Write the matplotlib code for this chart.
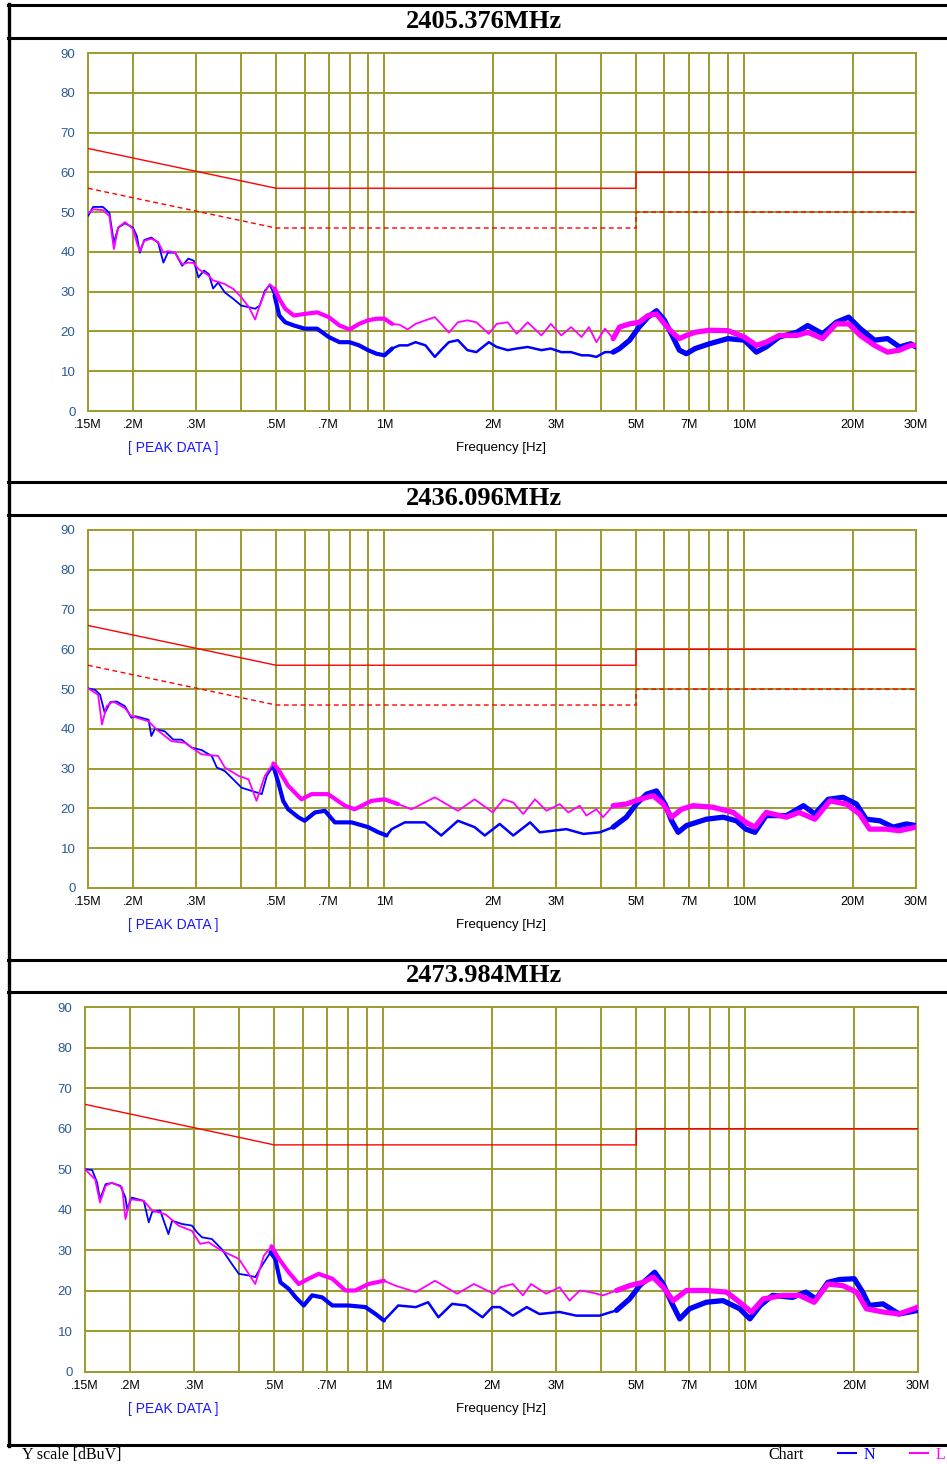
import matplotlib
matplotlib.use("Agg")
import matplotlib.pyplot as plt
from matplotlib.lines import Line2D
import numpy as np

# ---------------- data ----------------
TITLES = ["2405.376MHz", "2436.096MHz", "2473.984MHz"]

# limit lines (MHz, dBuV)
LIM_F = [0.15, 0.5, 5.0, 5.0, 30.0]
QP_LIM = [66, 56, 56, 60, 60]
AV_LIM = [56, 46, 46, 50, 50]

# Panel 1 (common frequency grid for N and L)
F1 = [0.150, 0.155, 0.165, 0.172, 0.177, 0.182, 0.190, 0.200, 0.205, 0.209, 0.215,
      0.225, 0.235, 0.243, 0.250, 0.262, 0.274, 0.285, 0.295, 0.304, 0.315, 0.325,
      0.334, 0.345, 0.360, 0.380, 0.400, 0.420, 0.437, 0.450, 0.465, 0.480, 0.495,
      0.510, 0.530, 0.560, 0.600, 0.650, 0.700, 0.750, 0.800, 0.850, 0.900, 0.950,
      1.00, 1.05, 1.10, 1.16, 1.22, 1.30, 1.38, 1.45, 1.51, 1.60, 1.70, 1.80, 1.95,
      2.05, 2.20, 2.33, 2.50, 2.73, 2.90, 3.10, 3.30, 3.53, 3.70, 3.88, 4.10, 4.32,
      4.50, 4.80, 5.10, 5.40, 5.70, 6.00, 6.30, 6.60, 6.90, 7.30, 8.00, 9.00, 10.0,
      10.8, 11.5, 12.5, 14.0, 15.0, 16.5, 18.0, 19.5, 21.0, 23.0, 25.0, 27.0, 29.0, 30.0]
N1 = [49.0, 51.3, 51.3, 49.8, 42.3, 46.1, 47.2, 46.1, 44.0, 39.8, 43.0,
      43.6, 42.3, 37.3, 39.8, 39.8, 36.5, 38.3, 37.8, 33.6, 35.3, 34.4,
      30.8, 32.3, 29.8, 28.2, 26.5, 26.1, 25.7, 26.5, 30.2, 31.7, 29.0,
      24.0, 22.3, 21.5, 20.7, 20.7, 18.6, 17.3, 17.3, 16.5, 15.3, 14.4,
      14.0, 15.7, 16.5, 16.5, 17.3, 16.5, 13.6, 15.7, 17.3, 17.8, 15.3, 14.8, 17.3,
      16.1, 15.3, 15.7, 16.1, 15.3, 15.7, 14.8, 14.8, 14.0, 14.0, 13.6, 14.8, 14.8,
      15.7, 17.8, 21.1, 23.6, 25.2, 22.8, 19.0, 15.3, 14.4, 15.7, 16.9, 18.2, 17.8,
      14.8, 16.1, 18.6, 19.8, 21.5, 19.4, 22.3, 23.6, 20.7, 17.8, 18.2, 16.1, 16.9, 16.1]
L1 = [49.7, 50.7, 50.5, 49.0, 40.7, 46.1, 47.5, 45.8, 42.3, 40.2, 42.8,
      43.3, 42.5, 39.8, 40.2, 39.8, 36.9, 37.3, 37.2, 35.7, 34.8, 34.0,
      32.8, 32.5, 31.9, 30.7, 28.6, 26.1, 23.0, 26.5, 29.8, 31.9, 30.8,
      28.2, 25.7, 24.0, 24.4, 24.8, 23.6, 21.5, 20.5, 21.9, 22.8, 23.2,
      23.2, 21.9, 21.7, 20.5, 21.9, 22.8, 23.6, 21.5, 19.7, 22.3, 22.8, 22.3, 19.4,
      21.9, 22.3, 19.4, 22.3, 19.0, 21.9, 19.0, 21.1, 18.6, 21.1, 17.3, 20.7, 18.2,
      21.1, 21.9, 22.3, 24.0, 24.4, 21.9, 19.8, 18.2, 19.0, 19.8, 20.3, 20.2, 18.6,
      16.5, 17.3, 19.0, 19.0, 19.8, 18.2, 21.9, 21.9, 19.0, 16.5, 14.8, 15.3, 16.5, 16.5]

# Panel 2
F2N = [0.150, 0.157, 0.162, 0.167, 0.173, 0.180, 0.190, 0.198, 0.203, 0.221, 0.225,
       0.230, 0.245, 0.259, 0.273, 0.291, 0.310, 0.331, 0.342, 0.360, 0.380, 0.401,
       0.428, 0.456, 0.471, 0.491, 0.507, 0.523, 0.540, 0.576, 0.600, 0.641, 0.683,
       0.728, 0.810, 0.901, 0.962, 1.014, 1.047, 1.139, 1.295, 1.438, 1.60, 1.78, 1.90,
       2.09, 2.28, 2.54, 2.70, 2.94, 3.20, 3.57, 3.97, 4.32, 4.70, 5.01, 5.35, 5.70,
       6.02, 6.28, 6.55, 6.91, 7.85, 8.73, 9.50, 10.1, 10.7, 11.5, 13.1, 14.6, 15.7,
       17.1, 18.8, 20.5, 21.8, 23.8, 25.9, 28.2, 30.0]
N2 = [50.2, 49.8, 48.6, 44.0, 46.7, 46.9, 45.7, 42.8, 43.2, 42.3, 38.2,
      40.0, 39.4, 37.3, 37.3, 35.3, 34.7, 33.2, 30.3, 29.4, 27.3, 25.2,
      24.4, 23.6, 28.2, 30.7, 26.5, 21.9, 19.8, 17.8, 16.9, 19.0, 19.4,
      16.5, 16.5, 15.3, 14.0, 13.2, 14.8, 16.5, 16.5, 13.2, 16.9, 15.3, 13.2,
      16.1, 13.2, 16.5, 14.0, 14.4, 14.8, 13.6, 14.0, 15.3, 17.8, 21.1, 23.6, 24.4,
      21.1, 16.9, 14.0, 15.7, 17.3, 17.8, 16.9, 14.8, 14.0, 18.2, 18.2, 20.7, 18.6,
      22.3, 22.8, 21.1, 17.3, 16.9, 15.3, 16.1, 15.7]
F2L = [0.150, 0.160, 0.164, 0.169, 0.176, 0.190, 0.198, 0.221, 0.233, 0.256, 0.279,
       0.310, 0.345, 0.360, 0.393, 0.419, 0.441, 0.465, 0.491, 0.507, 0.540, 0.588,
       0.627, 0.697, 0.776, 0.826, 0.920, 1.00, 1.09, 1.19, 1.38, 1.60, 1.78, 2.00,
       2.14, 2.28, 2.43, 2.62, 2.82, 3.07, 3.24, 3.49, 3.64, 3.88, 4.05, 4.32, 4.70,
       5.12, 5.58, 5.95, 6.28, 6.69, 7.20, 8.18, 9.31, 10.1, 10.7, 11.5, 13.1, 14.2,
       15.7, 17.3, 19.2, 20.9, 22.3, 24.8, 27.0, 30.0]
L2 = [50.2, 48.6, 41.1, 45.7, 46.9, 45.2, 43.2, 41.9, 39.8, 36.9, 36.5,
      33.6, 33.2, 30.3, 28.2, 27.3, 21.9, 28.2, 31.3, 29.8, 25.7, 22.3,
      23.6, 23.6, 20.7, 19.8, 21.9, 22.3, 21.1, 19.8, 22.8, 19.4, 22.3, 19.0,
      22.3, 21.5, 18.6, 22.3, 19.4, 21.1, 19.0, 20.7, 18.2, 19.8, 17.8, 20.7, 21.1,
      22.3, 23.2, 21.1, 17.8, 19.8, 20.7, 20.3, 19.0, 16.5, 15.3, 19.0, 17.8, 19.0,
      17.3, 21.9, 21.1, 18.6, 14.8, 14.8, 14.4, 15.3]

# Panel 3
F3N = [0.150, 0.157, 0.162, 0.165, 0.171, 0.178, 0.188, 0.194, 0.196, 0.202, 0.218,
       0.225, 0.230, 0.242, 0.255, 0.261, 0.278, 0.296, 0.306, 0.316, 0.336, 0.358,
       0.382, 0.399, 0.425, 0.443, 0.462, 0.488, 0.503, 0.520, 0.548, 0.573, 0.603,
       0.636, 0.678, 0.723, 0.802, 0.893, 0.952, 1.004, 1.035, 1.10, 1.23, 1.33, 1.42,
       1.55, 1.69, 1.88, 2.00, 2.10, 2.28, 2.49, 2.70, 3.07, 3.41, 3.96, 4.41, 4.79,
       5.11, 5.62, 5.93, 6.25, 6.59, 7.02, 7.80, 8.68, 9.65, 10.3, 11.0, 11.9, 13.5,
       14.7, 15.7, 16.9, 18.2, 20.0, 21.1, 22.0, 24.0, 26.6, 30.0]
N3 = [50.0, 49.8, 46.7, 42.6, 46.3, 46.6, 45.9, 43.0, 40.2, 43.0, 42.2,
      36.9, 39.5, 39.8, 34.0, 37.3, 36.5, 36.1, 34.4, 33.2, 32.8, 30.3,
      26.6, 24.2, 23.8, 23.4, 26.2, 29.5, 27.9, 22.1, 20.5, 18.4, 16.4,
      18.9, 18.4, 16.4, 16.4, 16.0, 14.3, 12.7, 13.9, 16.4, 16.0, 17.2, 13.5,
      16.8, 16.4, 13.5, 16.0, 16.0, 13.9, 16.0, 14.3, 14.8, 13.9, 13.9, 15.2, 18.0,
      21.3, 24.6, 21.7, 17.2, 13.1, 15.6, 17.2, 17.6, 15.6, 13.1, 16.4, 18.9, 18.4,
      19.7, 18.0, 22.1, 22.8, 23.0, 19.7, 16.4, 16.8, 14.3, 15.2]
F3L = [0.150, 0.160, 0.165, 0.171, 0.178, 0.190, 0.194, 0.200, 0.218, 0.230, 0.250,
       0.272, 0.296, 0.312, 0.329, 0.358, 0.399, 0.425, 0.443, 0.468, 0.491, 0.515,
       0.548, 0.584, 0.622, 0.663, 0.723, 0.786, 0.837, 0.911, 1.004, 1.08, 1.23,
       1.39, 1.60, 1.78, 2.02, 2.11, 2.28, 2.43, 2.56, 2.82, 3.07, 3.27, 3.49, 3.72,
       4.05, 4.41, 4.79, 5.22, 5.56, 5.93, 6.32, 6.88, 7.80, 8.88, 9.65, 10.4, 11.2,
       12.7, 14.1, 15.5, 16.9, 18.6, 20.3, 21.6, 24.0, 26.6, 30.0]
L3 = [50.0, 47.5, 41.8, 45.9, 46.7, 45.5, 37.7, 42.6, 42.2, 39.8, 38.9,
      36.1, 34.8, 31.6, 32.0, 29.9, 27.9, 24.2, 21.7, 28.7, 31.0, 27.9,
      24.6, 21.7, 23.0, 24.2, 23.0, 20.1, 20.1, 21.7, 22.5, 21.3, 19.7,
      22.5, 19.3, 21.7, 19.3, 20.9, 21.7, 18.9, 21.7, 19.3, 20.9, 17.6, 20.1, 19.7,
      18.9, 20.1, 21.3, 22.1, 23.4, 20.9, 17.6, 20.1, 20.1, 19.7, 17.2, 14.8, 18.0,
      18.9, 18.9, 17.2, 21.7, 21.3, 19.7, 15.6, 14.8, 14.3, 16.0]

PANELS = [
    (F1, N1, F1, L1, True),
    (F2N, N2, F2L, L2, True),
    (F3N, N3, F3L, L3, False),
]

XTICKS = [0.15, 0.2, 0.3, 0.5, 0.7, 1, 2, 3, 5, 7, 10, 20, 30]
XTICKLABELS = [".15M", ".2M", ".3M", ".5M", ".7M", "1M", "2M", "3M", "5M", "7M", "10M", "20M", "30M"]
XGRID = [0.2, 0.3, 0.4, 0.5, 0.6, 0.7, 0.8, 0.9, 1, 2, 3, 4, 5, 6, 7, 8, 9, 10, 20]
YTICKS = [0, 10, 20, 30, 40, 50, 60, 70, 80, 90]

# ---------------- style ----------------
W, H = 947, 1464
GRID_C = "#9d9a2c"
BLUE = "#0000ff"
MAG = "#ff00ff"
RED = "#ff0000"
YLAB_C = "#2a5a9c"
SANS = ["Liberation Sans", "DejaVu Sans"]
SERIF = ["Liberation Serif", "DejaVu Serif"]

# axes boxes in pixels: left, top, right, bottom
BOXES = [(88, 53, 916, 411), (88, 530, 916, 888), (85, 1007, 918, 1372)]
TITLE_Y = [21.5, 498.5, 976]

fig = plt.figure(figsize=(W / 100, H / 100), dpi=100)


def fx(x):
    return x / W


def fy(y):
    return 1 - y / H


# frame lines (table)
for y in [5, 38, 482, 515, 960, 992, 1445]:
    fig.add_artist(Line2D([fx(8), fx(947)], [fy(y), fy(y)], color="black", lw=2.2,
                          transform=fig.transFigure))
fig.add_artist(Line2D([fx(8.5), fx(8.5)], [fy(4), fy(1446)], color="black", lw=2.4,
                      transform=fig.transFigure))

# line-width segments (noisier measurement bands drawn thicker)
SEGMENTS = {
    "N": [(0.15, 0.5, 1.3), (0.5, 1.0, 3.0), (1.0, 4.5, 1.8), (4.5, 30, 3.8)],
    "L": [(0.15, 0.5, 1.3), (0.5, 1.0, 3.0), (1.0, 4.5, 1.3), (4.5, 30, 3.8)],
}


def draw_series(ax, f, v, color, key):
    f = np.asarray(f, float)
    v = np.asarray(v, float)
    for lo, hi, lw in SEGMENTS[key]:
        idx = np.where((f >= lo) & (f <= hi))[0]
        if len(idx) == 0:
            continue
        i0 = max(idx[0] - 1, 0)
        i1 = min(idx[-1] + 1, len(f) - 1)
        ax.plot(f[i0:i1 + 1], v[i0:i1 + 1], color=color, lw=lw, zorder=4,
                solid_joinstyle="round", solid_capstyle="round")


for p, (box, (fn, nv, fl, lv, show_av)) in enumerate(zip(BOXES, PANELS)):
    l, t, r, b = box
    ax = fig.add_axes([fx(l), fy(b), (r - l) / W, (b - t) / H])
    ax.set_xscale("log")
    ax.set_xlim(0.15, 30)
    ax.set_ylim(0, 90)
    for s in ax.spines.values():
        s.set_color(GRID_C)
        s.set_linewidth(1.4)
    for g in XGRID:
        ax.axvline(g, color=GRID_C, lw=1.4, zorder=1)
    for g in YTICKS[1:-1]:
        ax.axhline(g, color=GRID_C, lw=1.4, zorder=1)
    ax.set_xticks(XTICKS)
    ax.set_xticklabels(XTICKLABELS, fontfamily=SANS, fontsize=9, color="black")
    ax.xaxis.set_minor_locator(matplotlib.ticker.NullLocator())
    ax.set_yticks(YTICKS)
    ax.set_yticklabels([str(y) for y in YTICKS], fontfamily=SANS, fontsize=9.5, color=YLAB_C)
    ax.tick_params(axis="both", length=0)
    ax.tick_params(axis="x", pad=6)
    ax.tick_params(axis="y", pad=9)

    # limits
    ax.plot(LIM_F, QP_LIM, color=RED, lw=1.0, zorder=3)
    if show_av:
        ax.plot(LIM_F, AV_LIM, color=RED, lw=1.0, ls=(0, (3.5, 2.5)), zorder=3)

    draw_series(ax, fn, nv, BLUE, "N")
    draw_series(ax, fl, lv, MAG, "L")

    # texts
    fig.text(fx(484), fy(TITLE_Y[p]), TITLES[p], ha="center", va="center",
             fontfamily=SERIF, fontweight="bold", fontsize=19)
    fig.text(fx(173), fy(b + 37), "[ PEAK DATA ]", ha="center", va="center",
             fontfamily=SANS, fontsize=10, color="#1a1aff")
    fig.text(fx(501), fy(b + 37), "Frequency [Hz]", ha="center", va="center",
             fontfamily=SANS, fontsize=9.5, color="black")

# bottom legend row
fig.text(fx(22), fy(1455), "Y scale [dBuV]", ha="left", va="center",
         fontfamily=SERIF, fontsize=11.5)
fig.text(fx(768), fy(1455), "Chart", ha="left", va="center",
         fontfamily=SERIF, fontsize=11.5)
fig.add_artist(Line2D([fx(838), fx(856)], [fy(1453), fy(1453)], color=BLUE, lw=1.5,
                      transform=fig.transFigure))
fig.text(fx(864), fy(1455), "N", ha="left", va="center", fontfamily=SERIF,
         fontsize=11.5, color=BLUE)
fig.add_artist(Line2D([fx(910), fx(928)], [fy(1453), fy(1453)], color=MAG, lw=1.5,
                      transform=fig.transFigure))
fig.text(fx(936), fy(1455), "L", ha="left", va="center", fontfamily=SERIF,
         fontsize=11.5, color=MAG)

fig.savefig("out.png", dpi=100)
